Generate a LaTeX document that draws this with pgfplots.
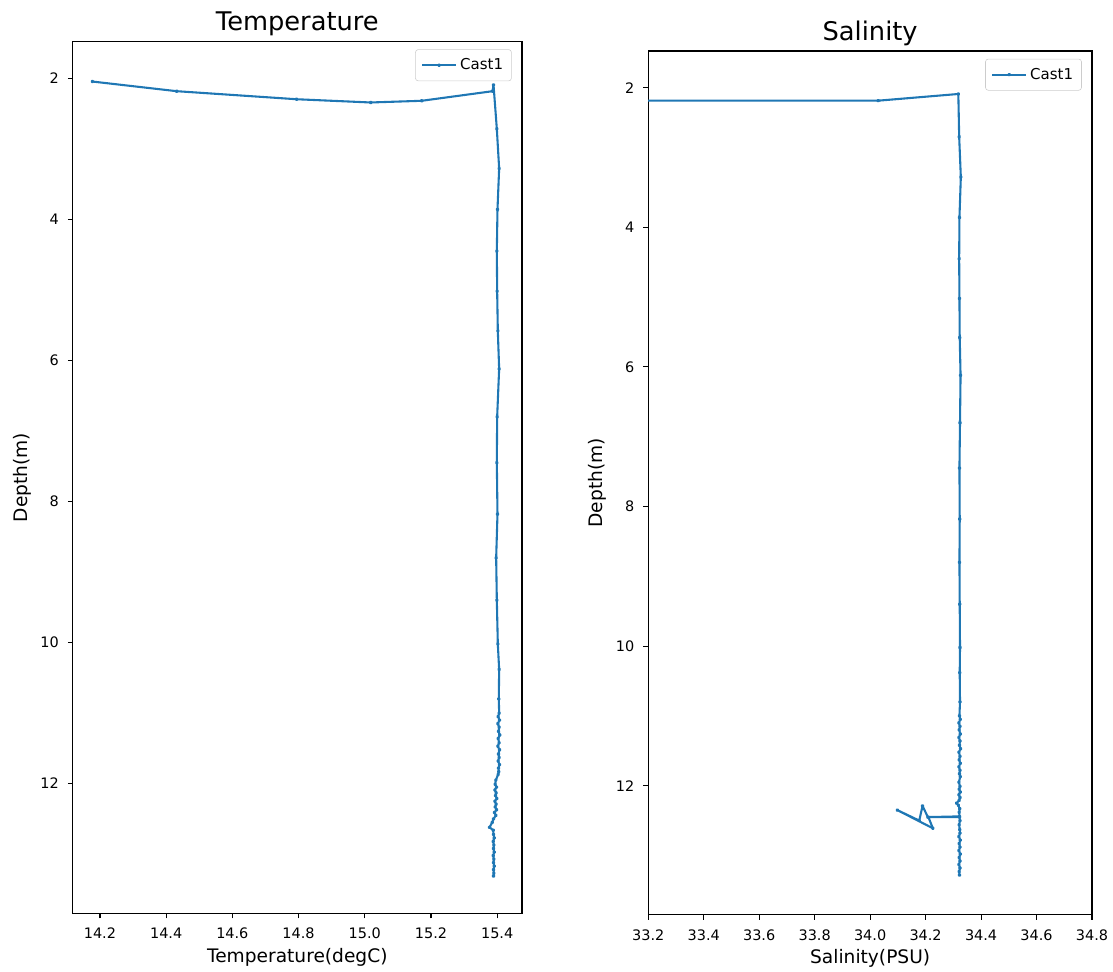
\documentclass[border=0pt]{standalone}
\usepackage{fontspec}
\setmainfont{DejaVu Sans}
\usepackage{pgfplots}
\pgfplotsset{compat=1.18}
\definecolor{mplblue}{HTML}{1F77B4}

\pgfplotsset{
  ctd/.style={
    scale only axis,
    anchor=south west,
    y dir=reverse,
    tick pos=left,
    tick align=outside,
    major tick length=3.5pt,
    axis line style={line width=0.8pt},
    every tick/.style={line width=0.8pt, black},
    tick label style={font=\fontsize{10.4}{12}\selectfont},
    xticklabel style={yshift=-3.4pt},
    yticklabel style={xshift=-3pt},
    /pgf/number format/assume math mode=true,
    label style={font=\fontsize{13.4}{16}\selectfont},
    title style={font=\fontsize{18.5}{22}\selectfont, at={(0.5,1)}, anchor=base, yshift=1.8pt},
    xlabel style={at={(0.5,0)}, anchor=base, yshift=-35pt},
    ylabel style={at={(0,0.5)}, anchor=center, yshift=36.5pt},
    legend style={at={(1,1)}, anchor=north east, xshift=-7.4pt, yshift=-5.6pt,
                  draw=black!20, rounded corners=2pt,
                  font=\fontsize{10.8}{13}\selectfont,
                  inner xsep=4pt, inner ysep=4.5pt},
    legend cell align=left,
    legend image code/.code={
      \draw[mark repeat=2, mark phase=2, #1]
        plot coordinates {(0pt,0pt) (12.3pt,0pt) (24.7pt,0pt)};
    },
    ytick={2,4,6,8,10,12},
  },
  cast/.style={mplblue, line width=1.5pt, mark=*, mark size=0.6pt, line join=round},
}

\begin{document}
\begin{tikzpicture}
\useasboundingbox (-52.3pt,-41.5pt) rectangle (749.0pt,657.6pt);

% temperature profile
\begin{axis}[ctd,
  at={(0pt,0pt)},
  width=323.5pt, height=627.7pt,
  xmin=14.1175, xmax=15.475,
  ymin=1.48, ymax=13.84,
  xtick={14.2,14.4,14.6,14.8,15.0,15.2,15.4},
  xticklabel style={/pgf/number format/.cd, fixed, fixed zerofill, precision=1},
  title={Temperature},
  xlabel={Temperature(degC)},
  ylabel={Depth(m)},
]
\addplot[cast] coordinates {
  (14.177,2.047) (14.432,2.184) (14.794,2.298) (15.018,2.344) (15.172,2.320)
  (15.386,2.184) (15.389,2.094) (15.399,2.717) (15.406,3.280) (15.401,3.86)
  (15.399,4.45) (15.400,5.02) (15.402,5.58) (15.406,6.12) (15.400,6.80)
  (15.399,7.45) (15.401,8.18) (15.397,8.80) (15.399,9.40) (15.402,10.02)
  (15.406,10.38) (15.405,10.80) (15.406,11.00) (15.403,11.05) (15.407,11.10)
  (15.402,11.15) (15.406,11.20) (15.404,11.26) (15.408,11.31) (15.403,11.36)
  (15.406,11.42) (15.402,11.47) (15.407,11.52) (15.404,11.58) (15.406,11.63)
  (15.403,11.68) (15.407,11.73) (15.404,11.78) (15.405,11.83) (15.403,11.87)
  (15.396,11.95) (15.394,12.01) (15.398,12.05) (15.393,12.09) (15.397,12.13)
  (15.395,12.17) (15.399,12.21) (15.393,12.25) (15.397,12.29) (15.394,12.33)
  (15.398,12.37) (15.392,12.41) (15.396,12.45) (15.389,12.50) (15.385,12.55)
  (15.377,12.62) (15.388,12.66) (15.389,12.72) (15.391,12.77) (15.388,12.82)
  (15.390,12.87) (15.389,12.92) (15.391,12.97) (15.388,13.02) (15.390,13.07)
  (15.389,13.12) (15.391,13.17) (15.389,13.22) (15.390,13.27) (15.389,13.31)
};
\legend{Cast1}
\end{axis}

% salinity profile
\begin{axis}[ctd,
  at={(414.4pt,-1.0pt)},
  width=319.5pt, height=621.9pt,
  xmin=33.2, xmax=34.8,
  ymin=1.474, ymax=13.85,
  xtick={33.2,33.4,33.6,33.8,34.0,34.2,34.4,34.6,34.8},
  xticklabel style={/pgf/number format/.cd, fixed, fixed zerofill, precision=1},
  title={Salinity},
  xlabel={Salinity(PSU)},
  ylabel={Depth(m)},
]
\addplot[cast] coordinates {
  (33.000,2.186) (34.029,2.186) (34.318,2.090) (34.321,2.702) (34.327,3.28)
  (34.322,3.86) (34.321,4.45) (34.322,5.02) (34.323,5.58) (34.326,6.12)
  (34.324,6.80) (34.322,7.45) (34.323,8.18) (34.322,8.80) (34.323,9.40)
  (34.324,10.02) (34.323,10.38) (34.324,10.80) (34.322,11.00) (34.325,11.05)
  (34.320,11.10) (34.324,11.15) (34.321,11.20) (34.325,11.26) (34.320,11.31)
  (34.324,11.36) (34.322,11.42) (34.326,11.47) (34.320,11.52) (34.324,11.58)
  (34.321,11.63) (34.325,11.68) (34.320,11.73) (34.324,11.78) (34.322,11.83)
  (34.325,11.87) (34.320,11.95) (34.324,12.01) (34.321,12.05) (34.325,12.09)
  (34.320,12.13) (34.324,12.17) (34.321,12.21) (34.312,12.25) (34.318,12.28)
  (34.323,12.33) (34.321,12.38) (34.322,12.44) (34.210,12.45) (34.226,12.61)
  (34.098,12.35) (34.177,12.50) (34.189,12.29) (34.208,12.45) (34.322,12.45)
  (34.324,12.50) (34.321,12.56) (34.323,12.63) (34.324,12.68)
  (34.320,12.73) (34.325,12.78) (34.321,12.83) (34.324,12.88) (34.320,12.93)
  (34.325,12.98) (34.321,13.03) (34.324,13.08) (34.320,13.13) (34.324,13.18)
  (34.321,13.23) (34.322,13.28)
};
\legend{Cast1}
\end{axis}
\end{tikzpicture}
\end{document}
